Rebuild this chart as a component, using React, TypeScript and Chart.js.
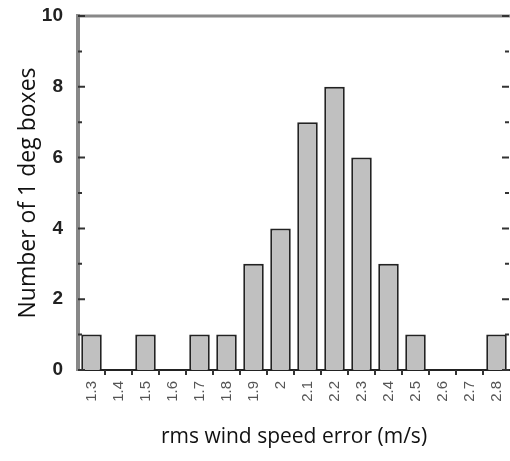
import React, { useEffect, useRef } from "react";
import { Chart, registerables } from "chart.js";

Chart.register(...registerables);

const categories = ["1.3", "1.4", "1.5", "1.6", "1.7", "1.8", "1.9", "2", "2.1", "2.2", "2.3", "2.4", "2.5", "2.6", "2.7", "2.8"];
const counts = [1, 0, 1, 0, 1, 1, 3, 4, 7, 8, 6, 3, 1, 0, 0, 1];
const yTickValues = [0, 2, 4, 6, 8, 10];
const xTitle = "rms wind speed error (m/s)";
const yTitle = "Number of 1 deg boxes";

const framePlugin = {
  id: "frame",
  afterDraw(chart: any) {
    const { ctx, chartArea } = chart;
    const x = chart.scales.x;
    const y = chart.scales.y;
    ctx.save();
    ctx.strokeStyle = "#888";
    ctx.lineWidth = 3;
    ctx.beginPath();
    ctx.moveTo(chartArea.left - 2, chartArea.top);
    ctx.lineTo(chartArea.right + 2, chartArea.top);
    ctx.stroke();
    ctx.strokeStyle = "#333";
    ctx.lineWidth = 2;
    for (let v = 0; v <= 10; v++) {
      const py = y.getPixelForValue(v);
      const len = v % 2 === 0 ? 7 : 4;
      ctx.beginPath();
      ctx.moveTo(chartArea.left, py);
      ctx.lineTo(chartArea.left + len, py);
      ctx.moveTo(chartArea.right - 1, py);
      ctx.lineTo(chartArea.right - 1 - len, py);
      ctx.stroke();
    }
    const w = x.width / categories.length;
    for (let i = 1; i < categories.length; i++) {
      const px = x.left + i * w;
      ctx.beginPath();
      ctx.moveTo(px, chartArea.bottom);
      ctx.lineTo(px, chartArea.bottom + 5);
      ctx.stroke();
    }
    ctx.restore();
  },
};

export default function App() {
  const ref = useRef<HTMLCanvasElement | null>(null);
  useEffect(() => {
    if (!ref.current) return;
    const chart = new Chart(ref.current, {
      type: "bar",
      data: {
        labels: categories,
        datasets: [
          {
            data: counts,
            backgroundColor: "#c0c0c0",
            borderColor: "#222",
            borderWidth: 2,
            barPercentage: 0.76,
            categoryPercentage: 1,
          },
        ],
      },
      options: {
        responsive: false,
        animation: false,
        layout: { padding: { top: 16, right: 0, left: 0, bottom: 0 } },
        plugins: { legend: { display: false }, tooltip: { enabled: false } },
        scales: {
          x: {
            grid: { display: false, drawTicks: false },
            border: { display: true, color: "#222", width: 2 },
            ticks: {
              maxRotation: 90,
              minRotation: 90,
              autoSkip: false,
              padding: 11,
              color: "#555",
              font: { family: "Liberation Sans, Arial, sans-serif", size: 15 },
            },
            title: {
              display: true,
              text: xTitle,
              color: "#111",
              font: { family: "Open Sans, sans-serif", size: 21 },
              padding: { top: 0, bottom: 11 },
            },
            afterFit(scale: any) {
              scale.height = 91;
              scale.paddingLeft = 0;
              scale.paddingRight = 0;
            },
          },
          y: {
            min: 0,
            max: 10,
            afterBuildTicks(scale: any) {
              scale.ticks = yTickValues.map((v) => ({ value: v }));
            },
            grid: { display: false, drawTicks: false },
            border: { display: true, color: "#888", width: 4 },
            ticks: {
              padding: 15,
              color: "#222",
              font: { family: "Liberation Sans, Arial, sans-serif", size: 19, weight: "bold" },
            },
            title: {
              display: true,
              text: yTitle,
              color: "#111",
              font: { family: "Open Sans, sans-serif", size: 23 },
              padding: { top: 15, bottom: 0 },
            },
            afterFit(scale: any) {
              scale.width = 78;
              scale.paddingTop = 0;
              scale.paddingBottom = 0;
            },
          },
        },
      },
      plugins: [framePlugin],
    });
    return () => chart.destroy();
  }, []);
  return (
    <div style={{ position: "fixed", left: 0, top: 0, width: 510, height: 461, background: "#fff" }}>
      <canvas ref={ref} width={510} height={461} />
    </div>
  );
}
